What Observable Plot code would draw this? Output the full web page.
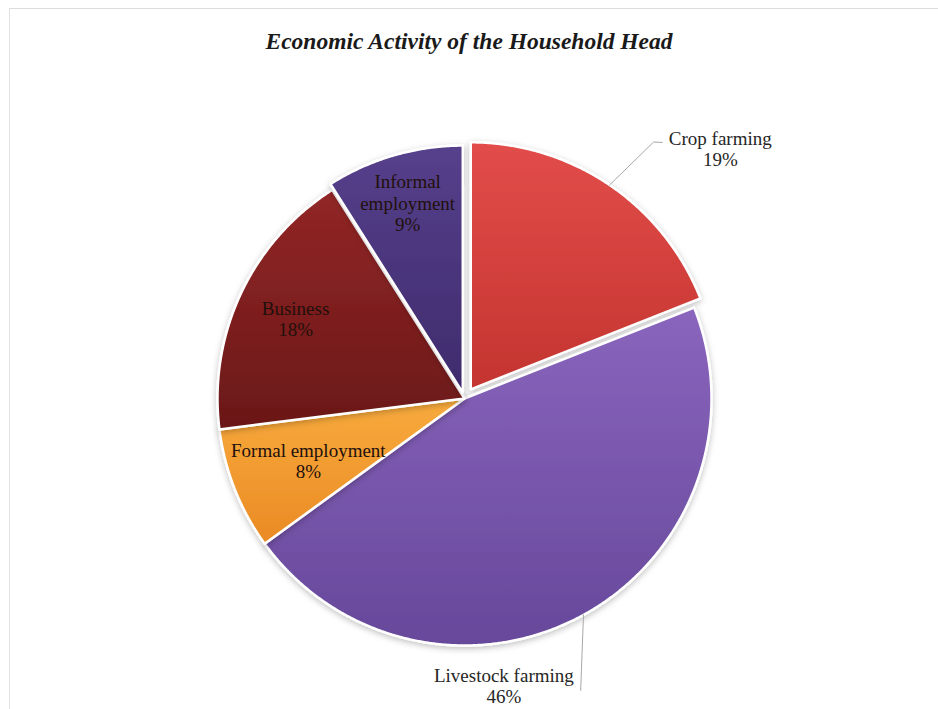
<!DOCTYPE html>
<html>
<head>
<meta charset="utf-8">
<script src="https://cdn.jsdelivr.net/npm/d3@7"></script>
<script src="https://cdn.jsdelivr.net/npm/@observablehq/plot@0.6"></script>
<style>
  body { margin: 0; background: #fff; }
  #wrap { position: relative; width: 938px; height: 709px; overflow: hidden; background: #fff; }
  #frame { position: absolute; left: 9px; top: 8px; width: 940px; height: 720px;
           border-top: 1px solid #dcdcdc; border-left: 1px solid #e2e2e2; pointer-events: none; }
  #title { height: 70px; box-sizing: border-box; padding-top: 27px; text-align: center;
           font: italic bold 23.5px "Liberation Serif", "Times New Roman", serif; color: #1a1a1a;
           line-height: 28px; }
  #chart svg { display: block; }
</style>
</head>
<body>
<div id="wrap">
  <div id="frame"></div>
  <div id="title">Economic Activity of the Household Head</div>
  <div id="chart"></div>
</div>
<script>
// ---- data ----
const categories = ["Crop farming", "Livestock farming", "Formal employment", "Business", "Informal employment"];
const shares = [19, 46, 8, 18, 9];
const percentLabels = ["19%", "46%", "8%", "18%", "9%"];
const nameLabels = ["Crop farming", "Livestock farming", "Formal employment", "Business", "Informal\nemployment"];

// ---- styles / layout ----
const gradTop = ["#e24d4a", "#8a65bd", "#f8ab3d", "#922626", "#56408c"];
const gradBottom = ["#c4342f", "#66489a", "#ea8a24", "#6a1818", "#3e2b6c"];
const explode = [0.045, 0, 0, 0, 0.025];
// inner labels: radius fraction along slice mid-angle; outer labels: explicit polar (deg, r)
const labelLayout = [
  {outside: true, a: 45.7, r: 1.447},
  {outside: true, a: 172.2, r: 1.174},
  {outside: false, r: 0.68},
  {outside: false, r: 0.756},
  {outside: false, r: 0.80}
];
const leaderLayout = [
  [{a: 36.4, r: 1.29}, {a: 37.7, r: 1.31}],
  [{a: 158.3, r: 1.272}],
  null, null, null
];

const W = 938, H = 639, R = 247, CX = 464, CY = 328;

const rows = categories.map((cat, i) => ({cat, share: shares[i], pct: percentLabels[i], name: nameLabels[i], i}));
const arcs = d3.pie().sort(null).value(d => d.share)(rows);

const polar = (a, r, off = {x: 0, y: 0}) => ({x: off.x + r * Math.sin(a), y: off.y + r * Math.cos(a)});
const rad = deg => deg * Math.PI / 180;

const slices = [];
const labels = [];
const leaders = [];
arcs.forEach((p, i) => {
  const mid = (p.startAngle + p.endAngle) / 2;
  const off = {x: explode[i] * Math.sin(mid), y: explode[i] * Math.cos(mid)};
  const cat = p.data.cat;
  slices.push({cat, i, ...off});
  const n = Math.ceil((p.endAngle - p.startAngle) / 0.005);
  for (let k = 0; k <= n; k++) {
    const a = p.startAngle + (p.endAngle - p.startAngle) * k / n;
    slices.push({cat, i, ...polar(a, 1, off)});
  }
  const L = labelLayout[i];
  const pos = L.outside ? polar(rad(L.a), L.r) : polar(mid, L.r, off);
  labels.push({cat, i, text: p.data.name + "\n" + p.data.pct, outside: L.outside, ...pos});
  if (leaderLayout[i]) {
    leaders.push({cat, ...polar(mid, 1, off)});
    leaderLayout[i].forEach(q => leaders.push({cat, ...polar(rad(q.a), q.r)}));
  }
});

const sliceMarks = categories.map((cat, i) =>
  Plot.line(slices.filter(d => d.i === i), {
    x: "x", y: "y", curve: "linear-closed",
    fill: `url(#grad${i})`, stroke: "#ffffff", strokeWidth: 2.5, strokeLinejoin: "round"
  })
);

const chart = Plot.plot({
  width: W, height: H, margin: 0,
  x: {domain: [-1, 1], range: [CX - R, CX + R], axis: null},
  y: {domain: [-1, 1], range: [CY + R, CY - R], axis: null},
  style: {background: "transparent", overflow: "visible"},
  marks: [
    ...sliceMarks,
    Plot.line(leaders, {x: "x", y: "y", z: "cat", stroke: "#a8a8a8", strokeWidth: 1}),
    Plot.text(labels.filter(d => !d.outside), {
      x: "x", y: "y", text: "text", fill: "#22100c",
      fontSize: 19, fontFamily: "Liberation Serif, Times New Roman, serif", lineHeight: 1.12
    }),
    Plot.text(labels.filter(d => d.outside), {
      x: "x", y: "y", text: "text", fill: "#262626",
      fontSize: 19, fontFamily: "Liberation Serif, Times New Roman, serif", lineHeight: 1.12
    })
  ]
});

// gradients + subtle shadow for the slices
const svg = d3.select(chart);
const defs = svg.insert("defs", ":first-child");
categories.forEach((c, i) => {
  const g = defs.append("linearGradient").attr("id", `grad${i}`)
    .attr("x1", 0).attr("y1", 0).attr("x2", 0).attr("y2", 1);
  g.append("stop").attr("offset", "0%").attr("stop-color", gradTop[i]);
  g.append("stop").attr("offset", "100%").attr("stop-color", gradBottom[i]);
});
const f = defs.append("filter").attr("id", "shadow").attr("x", "-10%").attr("y", "-10%").attr("width", "120%").attr("height", "120%");
f.append("feDropShadow").attr("dx", 0).attr("dy", 2).attr("stdDeviation", 3).attr("flood-color", "#000").attr("flood-opacity", 0.25);
svg.selectAll('g[aria-label="line"]').filter((d, k) => k < categories.length).attr("filter", "url(#shadow)");

document.getElementById("chart").appendChild(chart);
</script>
</body>
</html>
